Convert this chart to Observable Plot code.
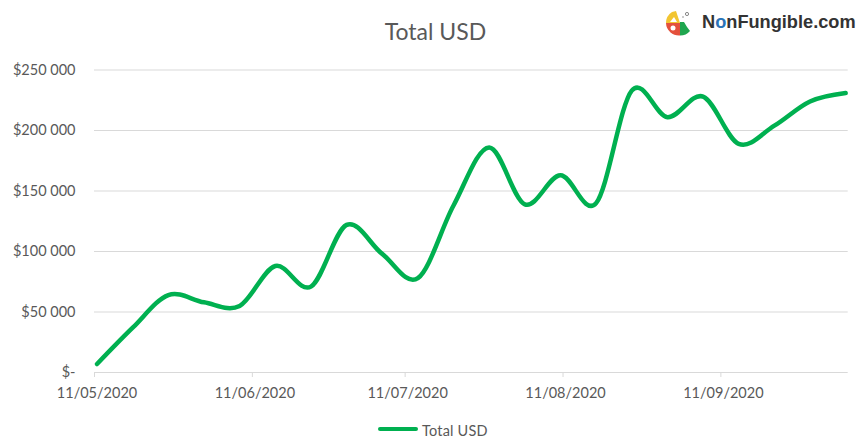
<!DOCTYPE html>
<html>
<head>
<meta charset="utf-8">
<script src="https://cdn.jsdelivr.net/npm/d3@7"></script>
<script src="https://cdn.jsdelivr.net/npm/@observablehq/plot@0.6"></script>
<style>
  html, body { margin: 0; padding: 0; background: #fff; width: 860px; height: 446px; overflow: hidden; font-family: Lato, "Open Sans", sans-serif; }
  #head { position: relative; height: 50px; }
  #title { position: absolute; left: 0; width: 871px; top: 16px; text-align: center; font-size: 23px; line-height: 30px; color: #595959; }
  #brand { position: absolute; left: 702px; top: 10px; font: bold 18.2px/24px "Liberation Sans", Arial, sans-serif; color: #333; white-space: nowrap; }
  #brand b { color: #2a74b8; }
  #logo { position: absolute; left: 664px; top: 9px; }
  #legend { height: 41px; position: relative; }
  #legend svg { position: absolute; left: 378px; top: 20px; }
  #legend span { position: absolute; left: 422px; top: 17px; font-size: 14.5px; line-height: 18px; color: #595959; letter-spacing: 0.2px; }
  #chart svg { display: block; }
</style>
</head>
<body>
<div id="head">
  <div id="title">Total USD</div>
  <svg id="logo" width="32" height="30" viewBox="0 0 32 30">
    <path d="M2 14 A13 13 0 0 1 8 3 L12 2 L16 14 Z" fill="#f2c531"/>
    <path d="M2 14 L16 14 L16 26.5 A13 13 0 0 1 2 14 Z" fill="#e4503c"/>
    <path d="M16 13 L20 13 L23 18 L26 22 A13 13 0 0 1 16 26.5 Z" fill="#1fa64f"/>
    <path d="M6 13 L10 8 L13 13 Z" fill="#fff"/>
    <circle cx="9" cy="19" r="2.5" fill="#fff"/>
    <circle cx="23" cy="5" r="1.6" fill="none" stroke="#888" stroke-width="1"/>
    <circle cx="19" cy="8" r="0.8" fill="#888"/>
  </svg>
  <div id="brand">N<b>o</b>nFungible.com</div>
</div>
<div id="chart"></div>
<div id="legend">
  <svg width="40" height="8"><line x1="2" y1="4" x2="38" y2="4" stroke="#00b050" stroke-width="4" stroke-linecap="round"/></svg>
  <span>Total USD</span>
</div>
<script>
const dates = ["2020-05-11","2020-05-18","2020-05-25","2020-06-01","2020-06-08","2020-06-15","2020-06-22","2020-06-29","2020-07-06","2020-07-13","2020-07-20","2020-07-27","2020-08-03","2020-08-10","2020-08-17","2020-08-24","2020-08-31","2020-09-07","2020-09-14","2020-09-21","2020-09-28","2020-10-05"];
const totalUsd = [7000,37000,64000,58000,55000,88000,71000,122000,98000,78000,138000,186000,139000,163000,140000,233000,211000,228000,189000,204000,224000,231000];
const xTicks = ["2020-05-11","2020-06-11","2020-07-11","2020-08-11","2020-09-11"];
const xTickLabels = ["11/05/2020","11/06/2020","11/07/2020","11/08/2020","11/09/2020"];
const yTicks = [0,50000,100000,150000,200000,250000];
const yTickLabels = ["$-","$50 000","$100 000","$150 000","$200 000","$250 000"];

const toDate = d3.utcParse("%Y-%m-%d");
const halfDay = 12 * 3600 * 1000;
// Each date sits in the middle of its day band, as on the original date axis.
const rows = dates.map((d, i) => ({date: new Date(+toDate(d) + halfDay), usd: totalUsd[i]}));
const xTickDates = xTicks.map(toDate);

const plot = Plot.plot({
  width: 860,
  height: 355,
  marginLeft: 94,
  marginRight: 12.3,
  marginTop: 19.5,
  marginBottom: 33,
  style: {fontFamily: "Lato, 'Open Sans', sans-serif", background: "#fff"},
  x: {type: "utc", domain: [toDate("2020-05-11"), toDate("2020-10-06")], label: null},
  y: {domain: [0, 250000], label: null},
  marks: [
    Plot.gridY(yTicks.slice(1), {y: d => d, stroke: "#d9d9d9", strokeOpacity: 1, strokeWidth: 1}),
    Plot.ruleY([0], {stroke: "#d9d9d9", strokeWidth: 1}),
    Plot.axisY({ticks: yTicks, tickSize: 0, tickPadding: 19, tickFormat: d => yTickLabels[yTicks.indexOf(d)], fontSize: 14.5, fill: "#595959", label: null}),
    Plot.axisX({ticks: xTickDates, tickSize: 5, stroke: "#d9d9d9", tickFormat: () => "", label: null}),
    Plot.axisX({ticks: xTickDates, tickSize: 0, tickPadding: 15, dx: 2.5, tickFormat: d => xTickLabels[xTickDates.findIndex(t => +t === +d)], fontSize: 14.5, fill: "#595959", label: null}),
    Plot.line(rows, {x: "date", y: "usd", stroke: "#00b050", strokeWidth: 4.5, strokeLinecap: "round", strokeLinejoin: "round", curve: d3.curveCatmullRom.alpha(0)})
  ]
});
document.getElementById("chart").append(plot);
</script>
</body>
</html>
